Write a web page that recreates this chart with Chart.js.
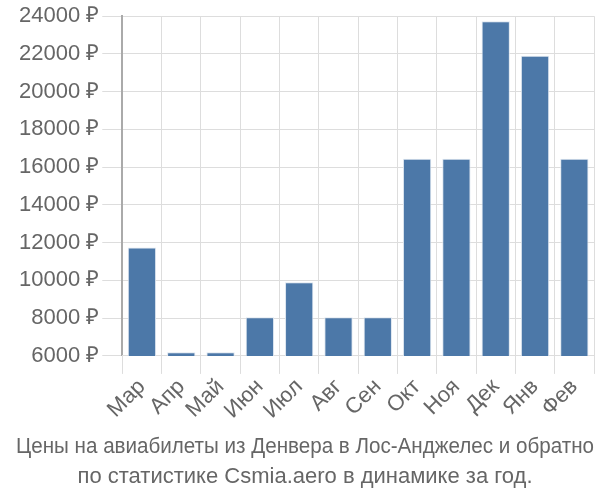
<!DOCTYPE html>
<html>
<head>
<meta charset="utf-8">
<script src="https://cdn.jsdelivr.net/npm/chart.js@4"></script>
<style>
  html, body { margin: 0; padding: 0; background: #fff; }
  #wrap { width: 600px; height: 500px; }
</style>
</head>
<body>
<div id="wrap"><canvas id="priceChart"></canvas></div>
<script>
// Months and prices (RUB)
const months = ['Мар', 'Апр', 'Май', 'Июн', 'Июл', 'Авг', 'Сен', 'Окт', 'Ноя', 'Дек', 'Янв', 'Фев'];
const prices = [11750, 6200, 6200, 8050, 9900, 8050, 8050, 16450, 16450, 23730, 21900, 16450];
const yMin = 6000;
const yMax = 24000;
const yStep = 2000;
const titleLines = [
    'Цены на авиабилеты из Денвера в Лос-Анджелес и обратно',
    'по статистике Csmia.aero в динамике за год.'
];

const tickFont = { family: '"Liberation Sans", Arial, sans-serif', size: 22 };

const ctx = document.getElementById('priceChart');

new Chart(ctx, {
    type: 'bar',
    data: {
        labels: months,
        datasets: [{
            data: prices,
            backgroundColor: '#4c78a8',
            borderColor: '#dde6f0',
            borderWidth: 1,
            barPercentage: 0.9,
            categoryPercentage: 0.8
        }]
    },
    options: {
        responsive: true,
        maintainAspectRatio: false,
        animation: false,
        layout: {
            padding: { top: 3, right: 6, left: 16, bottom: 0 }
        },
        plugins: {
            legend: { display: false },
            tooltip: { enabled: false },
            title: {
                display: true,
                position: 'bottom',
                text: titleLines,
                color: '#666',
                font: { family: '"Liberation Sans", sans-serif', size: 22, weight: 'normal', lineHeight: 1.36 },
                padding: { top: 8, bottom: 8 }
            }
        },
        scales: {
            y: {
                min: yMin,
                max: yMax,
                ticks: {
                    stepSize: yStep,
                    color: '#666',
                    font: tickFont,
                    padding: 3,
                    callback: v => v + ' ₽'
                },
                grid: { color: '#dddddd', tickLength: 20 },
                border: { color: '#aaaaaa', width: 2 }
            },
            x: {
                offset: true,
                ticks: {
                    color: '#666',
                    font: tickFont,
                    autoSkip: false,
                    maxRotation: 45,
                    minRotation: 45,
                    padding: 0
                },
                grid: { color: '#dddddd', offset: true, tickLength: 18 },
                border: { color: '#dddddd' }
            }
        }
    }
});
</script>
</body>
</html>
